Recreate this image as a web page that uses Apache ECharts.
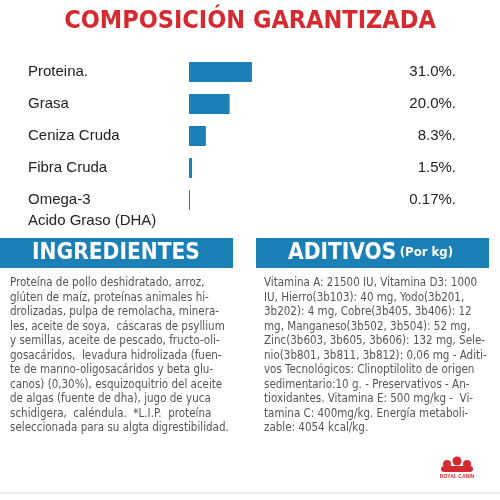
<!DOCTYPE html>
<html><head><meta charset="utf-8">
<script src="https://cdn.jsdelivr.net/npm/echarts@6/dist/echarts.min.js"></script>
<style>html,body{margin:0;padding:0;background:#fff}#c{width:500px;height:500px}</style>
</head><body><div id="c"></div>
<script>
var categories = ['Proteina.', 'Grasa', 'Ceniza Cruda', 'Fibra Cruda', 'Omega-3\nAcido Graso (DHA)'];
var values = [31.0, 20.0, 8.3, 1.5, 0.17];
var valueLabels = ['31.0%.', '20.0%.', '8.3%.', '1.5%.', '0.17%.'];
var ingredientLines = [
'Proteína de pollo deshidratado, arroz,',
'glúten de maíz, proteínas animales hi-',
'drolizadas, pulpa de remolacha, minera-',
'les, aceite de soya,  cáscaras de psyllium',
'y semillas, aceite de pescado, fructo-oli-',
'gosacáridos,  levadura hidrolizada (fuen-',
'te de manno-oligosacáridos y beta glu-',
'canos) (0,30%), esquizoquitrio del aceite',
'de algas (fuente de dha), jugo de yuca',
'schidigera,  caléndula.  *L.I.P.  proteína',
'seleccionada para su algta digrestibilidad.'];
var aditivoLines = [
'Vitamina A: 21500 IU, Vitamina D3: 1000',
'IU, Hierro(3b103): 40 mg, Yodo(3b201,',
'3b202): 4 mg, Cobre(3b405, 3b406): 12',
'mg, Manganeso(3b502, 3b504): 52 mg,',
'Zinc(3b603, 3b605, 3b606): 132 mg, Sele-',
'nio(3b801, 3b811, 3b812): 0,06 mg - Aditi-',
'vos Tecnológicos: Clinoptilolito de origen',
'sedimentario:10 g. - Preservativos - An-',
'tioxidantes. Vitamina E: 500 mg/kg -  Vi-',
'tamina C: 400mg/kg. Energía metaboli-',
'zable: 4054 kcal/kg.'];

var NF = '"Liberation Sans Narrow", "DejaVu Sans Condensed", sans-serif';
var chart = echarts.init(document.getElementById('c'));
var barData = values.map(function (v, i) {
  var last = i === categories.length - 1;
  return {
    value: v,
    label: {
      show: true, formatter: categories[i], color: '#222', fontSize: 15,
      fontFamily: 'Liberation Sans, Arial, sans-serif',
      align: 'left', lineHeight: 21,
      verticalAlign: last ? 'top' : 'middle',
      position: last ? [-161, -1] : [-161, 10]
    }
  };
});
var g = [
  {type: 'text', left: 'center', top: 9, style: {text: 'COMPOSICIÓN GARANTIZADA', fill: '#d52b30', font: 'bold 25px ' + NF}},
  {type: 'rect', shape: {x: 0, y: 238, width: 233, height: 30}, style: {fill: '#1a80b6'}},
  {type: 'rect', shape: {x: 256, y: 238, width: 233, height: 30}, style: {fill: '#1a80b6'}},
  {type: 'text', x: 116, y: 253, style: {text: 'INGREDIENTES', fill: '#fff', font: 'bold 22.5px ' + NF, align: 'center', verticalAlign: 'middle'}},
  {type: 'text', x: 288, y: 253, style: {text: '{a|ADITIVOS} {b|(Por kg)}', rich: {a: {fill: '#fff', font: 'bold 22.5px ' + NF}, b: {fill: '#fff', font: 'bold 13px ' + NF}}, verticalAlign: 'middle'}},
  {type: 'text', x: 10, y: 276, style: {text: ingredientLines.join('\n'), fill: '#555', font: '11.5px ' + NF, lineHeight: 14.5}},
  {type: 'text', x: 264, y: 276, style: {text: aditivoLines.join('\n'), fill: '#555', font: '11.5px ' + NF, lineHeight: 14.5}},
  {type: 'line', shape: {x1: 0, y1: 493, x2: 500, y2: 493}, style: {stroke: '#ddd', lineWidth: 1}},
  {type: 'circle', shape: {cx: 447, cy: 464, r: 4}, style: {fill: '#d52b30'}},
  {type: 'circle', shape: {cx: 457, cy: 461, r: 4.5}, style: {fill: '#d52b30'}},
  {type: 'circle', shape: {cx: 467, cy: 464, r: 4}, style: {fill: '#d52b30'}},
  {type: 'rect', shape: {x: 441, y: 466, width: 32, height: 6, r: 3}, style: {fill: '#d52b30'}},
  {type: 'text', x: 457, y: 474, style: {text: 'ROYAL CANIN', fill: '#d52b30', font: 'bold 5px sans-serif', align: 'center'}}
];
chart.setOption({
  animation: false,
  grid: {left: 189, right: 108, top: 56, height: 160},
  xAxis: {type: 'value', min: 0, max: 100, show: false},
  yAxis: [
    {type: 'category', data: categories, inverse: true, show: false},
    {type: 'category', data: valueLabels, inverse: true, position: 'right',
     axisLine: {show: false}, axisTick: {show: false},
     axisLabel: {align: 'right', margin: 64, fontSize: 15, color: '#222', fontFamily: 'Liberation Sans, Arial, sans-serif'}}
  ],
  series: [{type: 'bar', data: barData, barWidth: 20, barMinHeight: 1, itemStyle: {color: '#1a80b6'}}],
  graphic: g
});
</script></body></html>
